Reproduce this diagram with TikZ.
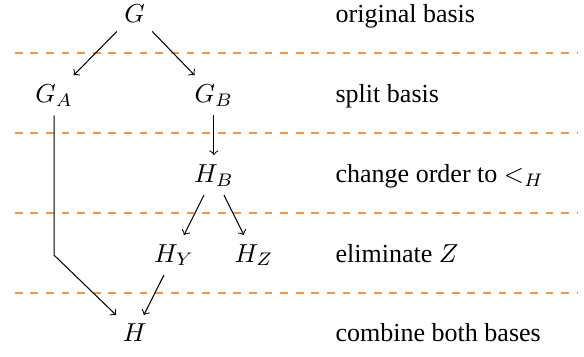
\documentclass[tikz,border=0pt]{standalone}
\usepackage{fontspec}
\setmainfont{Liberation Serif}
\usetikzlibrary{positioning}
\definecolor{sepcolor}{RGB}{242,150,70}

\begin{document}
\begin{tikzpicture}[
  st/.style={anchor=base},
  lbl/.style={anchor=base west},
  sep/.style={dashed,draw=sepcolor,line width=0.75pt},
  arrow/.style={->},
]
\useasboundingbox (0,0) rectangle (7.89,-4.81);

% bases
\node[st] (g)  at (1.82,-0.30) {$G$};
\node[st] (ga) at (0.73,-1.38) {$G_A$};
\node[st] (gb) at (2.89,-1.38) {$G_B$};
\node[st] (hb) at (2.89,-2.46) {$H_B$};
\node[st] (hy) at (2.35,-3.54) {$H_Y$};
\node[st] (hz) at (3.43,-3.54) {$H_Z$};
\node[st] (h)  at (1.82,-4.62) {$H$};

% step descriptions
\node[lbl] (lorig)  at (4.41,-0.30) {original basis};
\node[lbl] (lsplit) at (4.41,-1.38) {split basis};
\node[lbl] (lorder) at (4.41,-2.46) {change order to $<_H$};
\node[lbl] (lelim)  at (4.41,-3.54) {eliminate $Z$};
\node[lbl] (lcomb)  at (4.41,-4.62) {combine both bases};

% separators between the steps
\foreach \y in {0.72,1.80,2.88,3.96}
  \draw[sep] (0.2,-\y) -- (7.8,-\y);

\draw[arrow] (g) -- (ga);
\draw[arrow] (g) -- (gb);
\draw[arrow] (gb) -- (hb);
\draw[arrow] (hb) -- (hy);
\draw[arrow] (hb) -- (hz);
\draw[arrow] (hy) -- (h);
\draw[arrow] (ga) -- (ga |- hy) -- (h);
\end{tikzpicture}
\end{document}
